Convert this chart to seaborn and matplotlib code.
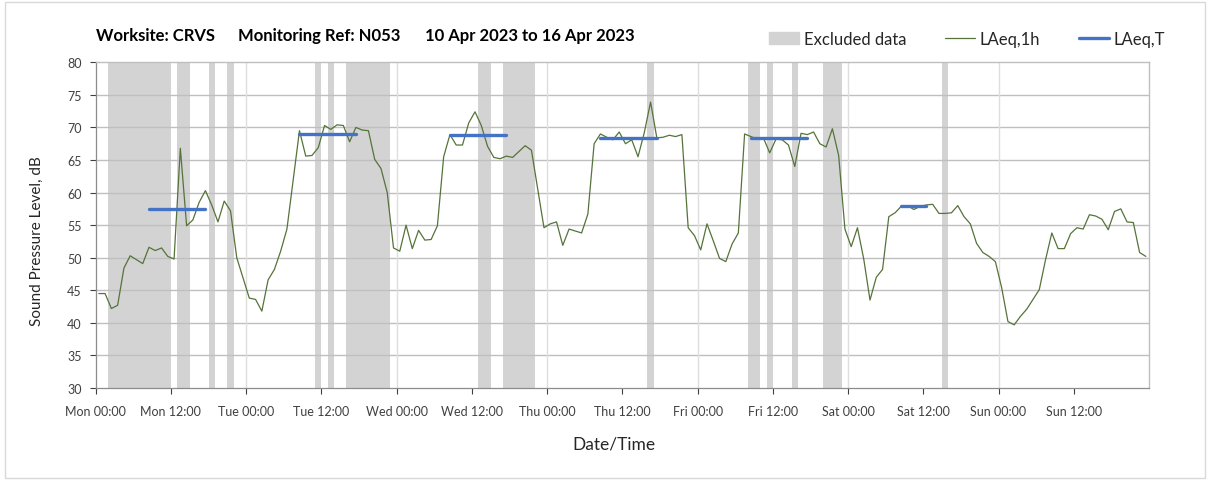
import pandas as pd
import numpy as np
import matplotlib
matplotlib.use("Agg")
import matplotlib.pyplot as plt
import matplotlib.patches as mpatches
from matplotlib.lines import Line2D
import seaborn as sns

# Hourly LAeq values, Mon 00:00 .. Sun 23:00
laeq_1h = [
    44.5, 44.5, 42.2, 42.7, 48.4, 50.3, 49.7, 49.1, 51.6, 51.1, 51.5, 50.2,
    49.8, 66.8, 54.9, 55.8, 58.5, 60.3, 58.1, 55.5, 58.7, 57.2, 50.0, 46.9,
    43.8, 43.6, 41.8, 46.6, 48.2, 51.0, 54.4, 62.0, 69.5, 65.6, 65.7, 66.9,
    70.3, 69.7, 70.4, 70.3, 67.8, 70.0, 69.6, 69.5, 65.1, 63.7, 60.0, 51.5,
    51.0, 55.0, 51.4, 54.2, 52.7, 52.8, 54.9, 65.5, 68.9, 67.3, 67.3, 70.7,
    72.4, 70.3, 67.1, 65.4, 65.2, 65.6, 65.4, 66.3, 67.2, 66.5, 60.5, 54.6,
    55.2, 55.5, 51.9, 54.4, 54.1, 53.8, 56.7, 67.5, 69.0, 68.5, 68.1, 69.3,
    67.5, 68.1, 65.5, 69.2, 73.9, 68.4, 68.5, 68.8, 68.6, 68.9, 54.6, 53.4,
    51.2, 55.2, 52.6, 49.9, 49.4, 52.1, 53.8, 69.0, 68.6, 68.2, 68.4, 66.1,
    68.2, 68.1, 67.3, 64.0, 69.1, 68.9, 69.3, 67.5, 67.0, 69.8, 65.7, 54.4,
    51.7, 54.6, 49.8, 43.5, 47.0, 48.2, 56.3, 56.9, 57.9, 58.0, 57.4, 57.9,
    58.1, 58.2, 56.8, 56.8, 56.9, 58.0, 56.3, 55.2, 52.2, 50.8, 50.2, 49.4,
    45.4, 40.2, 39.7, 41.0, 42.1, 43.6, 45.1, 49.7, 53.8, 51.4, 51.4, 53.7,
    54.6, 54.4, 56.6, 56.4, 55.9, 54.3, 57.1, 57.5, 55.5, 55.4, 50.8, 50.2,
]

# LAeq,T periods (first hour, last hour, level)
t_start = [8, 32, 56, 80, 104, 128]
t_end = [17, 41, 65, 89, 113, 132]
t_level = [57.5, 69.0, 68.9, 68.4, 68.4, 57.9]

# Excluded data periods (hours from Mon 00:00)
excl_start = [2, 13, 18, 21, 35, 37, 40, 61, 65, 88, 104, 107, 111, 116, 135]
excl_end = [12, 15, 19, 22, 36, 38, 47, 63, 70, 89, 106, 108, 112, 119, 136]

days = ["Mon", "Tue", "Wed", "Thu", "Fri", "Sat", "Sun"]
tick_labels = [f"{d} {h}" for d in days for h in ("00:00", "12:00")]

title_parts = ["Worksite: CRVS", "Monitoring Ref: N053", "10 Apr 2023 to 16 Apr 2023"]

GREEN = "#55733a"
BLUE = "#4472c4"
BAND = "#d3d3d3"

sns.set_theme(style="white")
plt.rcParams["font.family"] = ["Lato", "DejaVu Sans"]

df = pd.DataFrame({"hour": np.arange(len(laeq_1h)) + 0.5, "laeq": laeq_1h})
rows = []
for k, (s, e, v) in enumerate(zip(t_start, t_end, t_level)):
    rows.append({"period": k, "hour": s + 0.5, "level": v})
    rows.append({"period": k, "hour": e + 0.5, "level": v})
df_t = pd.DataFrame(rows)

fig = plt.figure(figsize=(12.08, 4.81), dpi=100)
fig.patches.append(mpatches.Rectangle((5 / 1208, 2 / 481), 1 - 8 / 1208, 1 - 5 / 481,
                                      transform=fig.transFigure, fill=False,
                                      edgecolor="#d9d9d9", lw=1))
ax = fig.add_axes([95.7 / 1208, 1 - 389 / 481, (1149 - 95.7) / 1208, (389 - 63.3) / 481])

# grey bands for excluded data
for s, e in zip(excl_start, excl_end):
    ax.axvspan(s, e, color=BAND, lw=0, zorder=0)

sns.lineplot(data=df, x="hour", y="laeq", ax=ax, color=GREEN, lw=0.9, zorder=3)
sns.lineplot(data=df_t, x="hour", y="level", units="period", estimator=None,
             ax=ax, color=BLUE, lw=2.4, zorder=4)

ax.set_xlim(0, 168)
ax.set_ylim(30, 80)
ax.set_yticks(range(30, 81, 5))
ax.set_xticks(range(0, 168, 12))
ax.set_xticklabels(tick_labels)
ax.tick_params(axis="both", labelsize=9, colors="#404040", length=4, width=0.8,
               direction="out", left=True, bottom=True, pad=6)
ax.tick_params(axis="x", pad=8)

for y in range(35, 80, 5):
    ax.axhline(y, color="#bfbfbf", lw=1, zorder=1)
for x in range(24, 168, 24):
    ax.axvline(x, color="#dedede", lw=1, zorder=1)

for side in ["left", "bottom"]:
    ax.spines[side].set_color("#8c8c8c")
    ax.spines[side].set_linewidth(0.9)
for side in ["top", "right"]:
    ax.spines[side].set_color("#bfbfbf")
    ax.spines[side].set_linewidth(1)

ax.set_xlabel("")
ax.set_ylabel("")
fig.text(37 / 1208, 1 - 241 / 481, "Sound Pressure Level, dB", rotation=90,
         ha="center", va="center", fontsize=11, color="#262626")
fig.text(614 / 1208, 1 - 445 / 481, "Date/Time", ha="center", va="center",
         fontsize=12.5, color="#262626")
for xpos, part in zip([96, 238, 425], title_parts):
    fig.text(xpos / 1208, 1 - 36 / 481, part, ha="left", va="center",
             fontsize=12, fontweight="bold", color="#000000")

handles = [
    mpatches.Patch(color=BAND, label="Excluded data"),
    Line2D([], [], color=GREEN, lw=0.9, label="LAeq,1h"),
    Line2D([], [], color=BLUE, lw=2.4, label="LAeq,T"),
]
fig.legend(handles=handles, loc="center right", bbox_to_anchor=(1180 / 1208, 1 - 40 / 481),
           ncol=3, frameon=False, fontsize=12, handlelength=1.8, handletextpad=0.3,
           columnspacing=2.3, labelcolor="#262626")

fig.savefig("out.png", dpi=100)
